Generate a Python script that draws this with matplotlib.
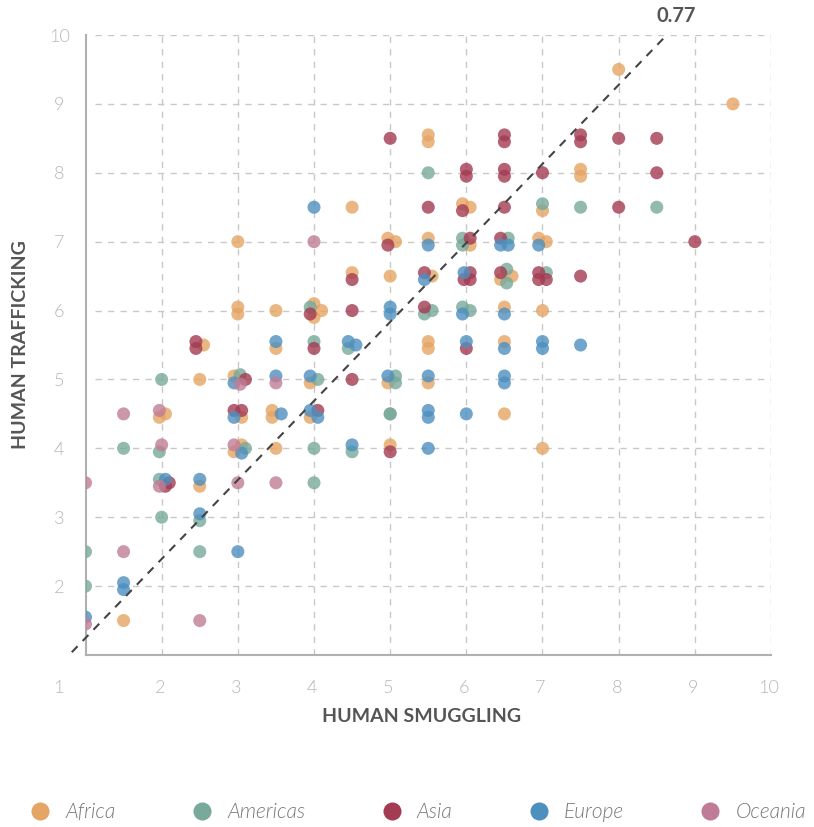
import matplotlib
matplotlib.use("Agg")
import matplotlib.pyplot as plt
from matplotlib.lines import Line2D
from matplotlib.transforms import ScaledTranslation

# ---------------- data ----------------
regions = ["Africa", "Americas", "Asia", "Europe", "Oceania"]
colors = ["#E5A564", "#78A99A", "#A33B52", "#4D8FBF", "#C07C96"]

africa_x = [8.0, 9.5, 5.5, 5.5, 7.5, 7.5, 4.5, 5.95, 6.05, 7.0, 3.0, 4.97, 5.07, 5.5, 6.05, 6.95, 7.05,
            4.5, 5.0, 5.55, 6.6, 6.45, 3.0, 3.0, 3.5, 4.0, 4.1, 4.0, 6.5, 7.0, 2.55, 3.5, 5.5, 5.5, 6.5,
            2.5, 2.95, 3.95, 4.97, 5.5, 1.97, 2.05, 3.05, 3.45, 3.45, 3.95, 6.5, 3.05, 2.95, 3.5, 5.0,
            7.0, 2.5, 1.5]
africa_y = [9.5, 9.0, 8.55, 8.45, 8.05, 7.95, 7.5, 7.55, 7.5, 7.45, 7.0, 7.05, 7.0, 7.05, 6.95, 7.05, 7.0,
            6.55, 6.5, 6.5, 6.5, 6.45, 6.05, 5.95, 6.0, 6.1, 6.0, 5.9, 6.05, 6.0, 5.5, 5.45, 5.55, 5.45, 5.55,
            5.0, 5.05, 4.95, 4.95, 4.95, 4.45, 4.5, 4.45, 4.55, 4.45, 4.45, 4.5, 4.05, 3.95, 4.0, 4.05,
            4.0, 3.45, 1.5]

americas_x = [5.5, 7.0, 7.5, 8.5, 5.95, 5.95, 6.55, 6.53, 6.53, 7.05, 3.95, 5.45, 5.55, 5.95, 6.05,
              4.0, 4.45, 2.0, 3.03, 4.05, 5.07, 5.07, 5.0, 5.0, 1.5, 1.97, 3.1, 4.0, 4.5, 1.97, 4.0,
              2.0, 2.5, 1.0, 2.5, 1.0]
americas_y = [8.0, 7.55, 7.5, 7.5, 7.05, 6.95, 7.05, 6.6, 6.4, 6.55, 6.05, 5.95, 6.0, 6.05, 6.0,
              5.55, 5.45, 5.0, 5.07, 5.0, 5.05, 4.95, 4.5, 4.5, 4.0, 3.95, 4.0, 4.0, 3.95, 3.55, 3.5,
              3.0, 2.95, 2.5, 2.5, 2.0]

asia_x = [5.0, 6.5, 6.5, 7.5, 7.5, 8.0, 8.5, 6.0, 6.0, 6.5, 6.5, 7.0, 8.5, 5.5, 5.95, 6.5, 8.0,
          4.97, 6.05, 6.45, 9.0, 4.5, 5.45, 6.05, 5.97, 6.05, 6.45, 6.95, 6.95, 7.05, 7.5, 3.95, 4.5,
          5.45, 2.45, 2.45, 4.0, 6.0, 3.1, 4.5, 2.95, 3.05, 4.05, 5.0, 2.05, 2.1]
asia_y = [8.5, 8.55, 8.45, 8.55, 8.45, 8.5, 8.5, 8.05, 7.95, 8.05, 7.95, 8.0, 8.0, 7.5, 7.45, 7.5, 7.5,
          6.95, 7.05, 7.05, 7.0, 6.45, 6.55, 6.55, 6.45, 6.45, 6.55, 6.55, 6.45, 6.45, 6.5, 5.95, 6.0,
          6.05, 5.55, 5.45, 5.45, 5.45, 5.0, 5.0, 4.55, 4.55, 4.55, 3.95, 3.45, 3.5]

europe_x = [4.0, 5.5, 6.45, 6.55, 6.95, 5.45, 5.97, 5.0, 5.0, 5.95, 6.5, 3.5, 4.45, 4.55, 6.0, 6.5,
            7.0, 7.0, 7.5, 2.95, 3.5, 3.95, 4.97, 5.5, 6.5, 6.5, 2.95, 3.57, 3.95, 4.05, 5.5, 5.5,
            6.0, 3.05, 4.5, 5.5, 2.05, 2.5, 2.5, 3.0, 1.5, 1.5, 1.0]
europe_y = [7.5, 6.95, 6.95, 6.95, 6.95, 6.45, 6.55, 6.05, 5.95, 5.95, 5.95, 5.55, 5.55, 5.5, 5.55, 5.45,
            5.55, 5.45, 5.5, 4.95, 5.05, 5.05, 5.05, 5.05, 5.05, 4.95, 4.45, 4.5, 4.55, 4.45, 4.55, 4.45,
            4.5, 3.93, 4.05, 4.0, 3.55, 3.55, 3.05, 2.5, 2.05, 1.95, 1.55]

oceania_x = [4.0, 3.03, 3.5, 1.5, 1.97, 2.0, 2.95, 1.0, 1.97, 3.0, 3.5, 1.5, 1.0, 2.5]
oceania_y = [7.0, 4.93, 4.95, 4.5, 4.55, 4.05, 4.05, 3.5, 3.45, 3.5, 3.5, 2.5, 1.45, 1.5]

series_x = [africa_x, americas_x, asia_x, europe_x, oceania_x]
series_y = [africa_y, americas_y, asia_y, europe_y, oceania_y]

x_ticks = [1, 2, 3, 4, 5, 6, 7, 8, 9, 10]
y_ticks = [2, 3, 4, 5, 6, 7, 8, 9, 10]
fit_intercept = 0.10
fit_slope = 1.147
fit_x_start = 0.82
corr_label = "0.77"

# ---------------- figure ----------------
W, H = 814, 827
fig = plt.figure(figsize=(W / 100, H / 100), dpi=100)
ax = fig.add_axes([85.5 / W, 1 - 655 / H, (771 - 85.5) / W, (655 - 35) / H])
ax.set_xlim(1, 10)
ax.set_ylim(1, 10)

grid_kw = dict(color="#c8c8c8", linewidth=1.0, linestyles=(0, (4.5, 4.5)), zorder=0)
ax.vlines(x_ticks[1:], 1, 10, **grid_kw)
ax.hlines(y_ticks, 1.125, 10, **grid_kw)

for xs, ys, c in zip(series_x, series_y, colors):
    ax.scatter(xs, ys, s=88, color=c, alpha=0.8, edgecolors="none", zorder=3)

# fit line
x_end = (10 - fit_intercept) / fit_slope
ax.plot([fit_x_start, x_end], [fit_intercept + fit_slope * fit_x_start, 10],
        color="#444444", linewidth=1.5, linestyle=(0, (4, 3.5)), zorder=4, clip_on=False)
ax.text(x_end + 0.13, 10.28, corr_label, fontsize=14.5, fontweight="bold", color="#555555",
        family="Lato", ha="center", va="center")

for s in ["top", "right"]:
    ax.spines[s].set_visible(False)
for s in ["left", "bottom"]:
    ax.spines[s].set_color("#b0b0b0")
    ax.spines[s].set_linewidth(1.5)

ax.set_xticks(x_ticks)
ax.set_xticklabels([str(t) for t in x_ticks])
ax.set_yticks(y_ticks)
ax.set_yticklabels([str(t) for t in y_ticks])
ax.tick_params(axis="both", length=0, colors="#b8b8b8", labelsize=13)
ax.tick_params(axis="x", pad=18)
ax.tick_params(axis="y", pad=19)
for lab in ax.get_xticklabels() + ax.get_yticklabels():
    lab.set_family("Lato")
    lab.set_fontweight(300)
for lab in ax.get_yticklabels():
    lab.set_horizontalalignment("center")
xl = ax.get_xticklabels()
xl[0].set_transform(xl[0].get_transform() + ScaledTranslation(-0.27, 0, fig.dpi_scale_trans))
for lab in xl[1:]:
    lab.set_transform(lab.get_transform() + ScaledTranslation(-0.02, 0, fig.dpi_scale_trans))

ax.set_xlabel("HUMAN SMUGGLING", fontsize=14, fontweight="bold", color="#555555", family="Lato")
ax.set_ylabel("HUMAN TRAFFICKING", fontsize=14, fontweight="bold", color="#555555", family="Lato")
ax.xaxis.set_label_coords(0.49, -0.1)
ax.yaxis.set_label_coords(-0.0955, 0.5)
ax.xaxis.label.set_va("center")
ax.yaxis.label.set_va("center")

handles = [Line2D([], [], marker="o", linestyle="none", markersize=13, markerfacecolor=c,
                  markeredgecolor="none") for c in colors]
leg = fig.legend(handles, regions, loc="center", bbox_to_anchor=(418 / W, 1 - 812 / H), ncol=5,
                 frameon=False, columnspacing=3.65, handletextpad=0.7, handlelength=1.0,
                 prop={"family": "Lato", "style": "italic", "weight": 300, "size": 15})
for t in leg.get_texts():
    t.set_color("#777777")

fig.savefig("out.png", dpi=100)
